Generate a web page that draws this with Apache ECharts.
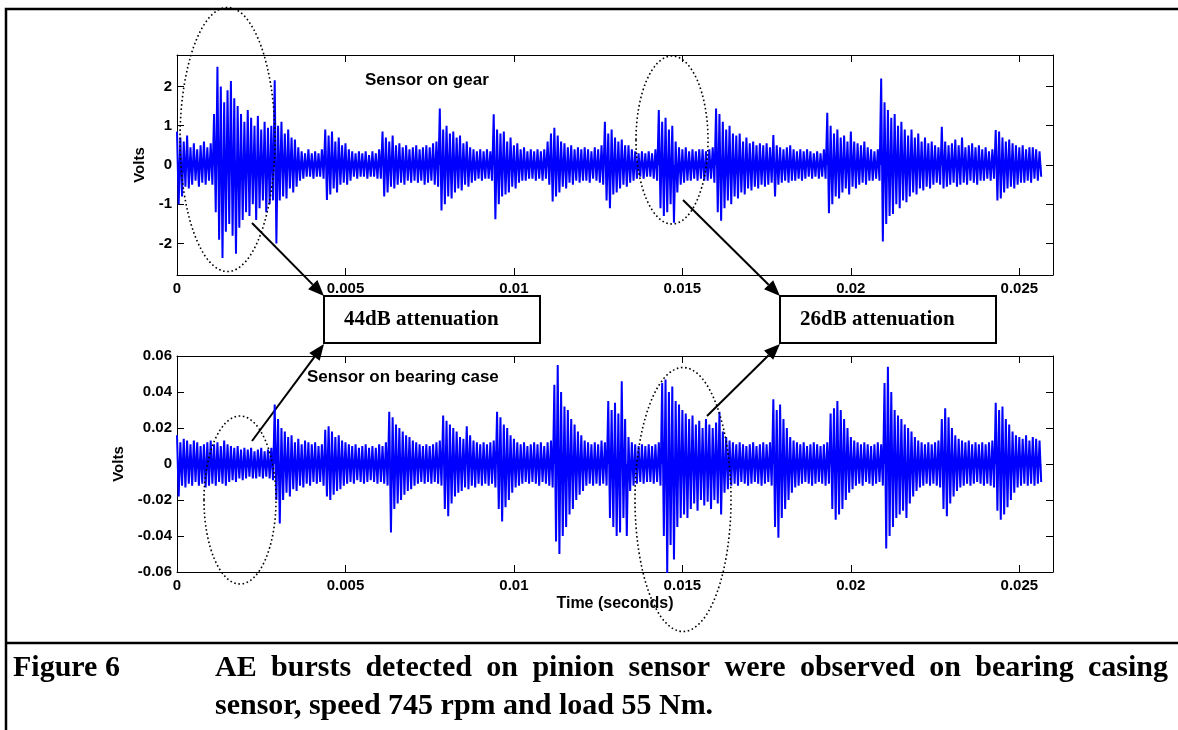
<!DOCTYPE html>
<html>
<head>
<meta charset="utf-8">
<script src="https://cdn.jsdelivr.net/npm/echarts@6/dist/echarts.min.js"></script>
<style>
  html, body { margin: 0; padding: 0; background: #fff; }
  #chart { width: 1178px; height: 730px; }
</style>
</head>
<body>
<div id="chart"></div>
<script>
// spacing (s) between the envelope readings below
const timeStep = 0.0001;
const timeTicks = [0, 0.005, 0.01, 0.015, 0.02, 0.025];
const gearTicks = [-2, -1, 0, 1, 2];
const caseTicks = [-0.06, -0.04, -0.02, 0, 0.02, 0.04, 0.06];

// sensor on gear: upper / lower peak in each 0.1 ms slot (volts)
const gearHi = [
  0.85, 0.7, 0.6, 0.75, 0.45, 0.55, 0.4, 0.5, 0.6, 0.45,
  0.55, 1.3, 2.5, 2.0, 1.6, 1.9, 2.14, 1.7, 1.5, 1.3,
  1.1, 1.4, 1.2, 1.0, 1.25, 0.9, 1.1, 0.95, 1.0, 2.16,
  1.0, 1.1, 0.8, 0.9, 0.7, 0.65, 0.45, 0.35, 0.3, 0.4,
  0.3, 0.35, 0.3, 0.4, 0.9, 0.75, 0.85, 0.6, 0.7, 0.5,
  0.55, 0.4, 0.35, 0.3, 0.35, 0.3, 0.35, 0.25, 0.35, 0.3,
  0.4, 0.85, 0.7, 0.6, 0.75, 0.5, 0.55, 0.45, 0.5, 0.4,
  0.45, 0.5, 0.4, 0.45, 0.5, 0.45, 0.55, 0.6, 1.44, 0.9,
  1.0, 0.8, 0.85, 0.7, 0.75, 0.55, 0.6, 0.45, 0.4, 0.35,
  0.4, 0.35, 0.4, 0.35, 1.29, 0.9, 0.8, 0.85, 0.6, 0.7,
  0.5, 0.55, 0.4, 0.45, 0.35, 0.4, 0.35, 0.4, 0.35, 0.4,
  0.6, 0.8, 0.95, 0.75, 0.6, 0.55, 0.45, 0.5, 0.4, 0.45,
  0.4, 0.45, 0.4, 0.35, 0.45, 0.4, 0.5, 1.1, 0.8, 0.9,
  0.7, 0.6, 0.65, 0.5, 0.5, 0.4, 0.35, 0.3, 0.35, 0.3,
  0.35, 0.3, 0.4, 1.4, 1.1, 1.2, 0.9, 1.0, 0.6, 0.45,
  0.4, 0.45, 0.35, 0.4, 0.35, 0.4, 0.4, 0.35, 0.4, 0.45,
  1.44, 1.3, 1.1, 0.9, 1.0, 0.8, 0.75, 0.8, 0.6, 0.7,
  0.55, 0.6, 0.5, 0.55, 0.5, 0.55, 0.45, 0.76, 0.5, 0.45,
  0.4, 0.45, 0.5, 0.4, 0.35, 0.4, 0.35, 0.4, 0.35, 0.3,
  0.35, 0.3, 0.4, 1.33, 1.0, 0.8, 0.9, 0.7, 0.75, 0.6,
  0.85, 0.6, 0.55, 0.5, 0.6, 0.45, 0.4, 0.35, 0.4, 2.2,
  1.6, 1.4, 1.2, 1.3, 1.0, 1.1, 0.9, 0.75, 0.9, 0.7,
  0.8, 0.6, 0.7, 0.55, 0.6, 0.5, 0.45, 0.97, 0.6, 0.5,
  0.55, 0.65, 0.5, 0.7, 0.45, 0.5, 0.55, 0.45, 0.5, 0.4,
  0.45, 0.35, 0.4, 0.89, 0.85, 0.7, 0.6, 0.65, 0.55, 0.5,
  0.45, 0.5, 0.4, 0.45, 0.45, 0.4, 0.35
];
const gearLo = [
  -1.0, -0.8, -0.55, -0.6, -0.5, -0.4, -0.55, -0.45, -0.5, -0.4,
  -0.5, -1.2, -1.9, -2.37, -1.7, -1.5, -1.8, -2.26, -1.6, -1.4,
  -1.2, -1.3, -1.0, -1.4, -1.1, -0.9, -1.2, -1.0, -0.9, -2.0,
  -0.9, -0.8, -0.85, -0.6, -0.7, -0.55, -0.4, -0.35, -0.3, -0.3,
  -0.35, -0.3, -0.3, -0.35, -0.89, -0.75, -0.6, -0.7, -0.5, -0.45,
  -0.5, -0.4, -0.3, -0.35, -0.3, -0.3, -0.35, -0.3, -0.3, -0.35,
  -0.35, -0.8, -0.7, -0.55, -0.6, -0.5, -0.45, -0.5, -0.4, -0.45,
  -0.4, -0.45, -0.4, -0.5, -0.45, -0.4, -0.5, -0.55, -1.16, -1.0,
  -0.8, -0.85, -0.7, -0.6, -0.65, -0.5, -0.55, -0.45, -0.4, -0.35,
  -0.4, -0.35, -0.35, -0.4, -1.38, -1.0, -0.8, -0.75, -0.7, -0.55,
  -0.6, -0.45, -0.4, -0.4, -0.35, -0.35, -0.4, -0.35, -0.4, -0.35,
  -0.5, -0.93, -0.8, -0.7, -0.55, -0.6, -0.45, -0.5, -0.4, -0.45,
  -0.4, -0.4, -0.45, -0.35, -0.4, -0.45, -0.5, -0.9, -1.1, -0.75,
  -0.7, -0.6, -0.5, -0.55, -0.45, -0.4, -0.35, -0.3, -0.35, -0.3,
  -0.3, -0.35, -0.4, -1.1, -1.3, -1.2, -1.0, -1.47, -0.7, -0.5,
  -0.45, -0.4, -0.4, -0.35, -0.4, -0.35, -0.4, -0.4, -0.35, -0.45,
  -1.2, -1.42, -1.1, -0.9, -1.0, -0.8, -0.85, -0.7, -0.75, -0.6,
  -0.65, -0.55, -0.6, -0.5, -0.55, -0.5, -0.45, -0.8, -0.5, -0.45,
  -0.4, -0.45, -0.4, -0.4, -0.35, -0.4, -0.35, -0.3, -0.35, -0.3,
  -0.35, -0.3, -0.35, -1.23, -1.0, -0.8, -0.85, -0.7, -0.6, -0.75,
  -0.55, -0.6, -0.5, -0.45, -0.5, -0.4, -0.4, -0.35, -0.4, -1.95,
  -1.5, -1.3, -1.25, -1.0, -1.1, -0.9, -0.95, -0.8, -0.7, -0.75,
  -0.6, -0.65, -0.55, -0.6, -0.5, -0.45, -0.5, -0.6, -0.55, -0.5,
  -0.45, -0.55, -0.5, -0.45, -0.5, -0.4, -0.45, -0.5, -0.4, -0.4,
  -0.35, -0.4, -0.35, -0.9, -0.85, -0.7, -0.6, -0.55, -0.6, -0.5,
  -0.45, -0.45, -0.4, -0.45, -0.35, -0.4, -0.3
];

// sensor on bearing case: upper / lower peak in each 0.1 ms slot (volts)
const caseHi = [
  0.016, 0.012, 0.014, 0.013, 0.011, 0.013, 0.012, 0.01, 0.011, 0.012,
  0.013, 0.011, 0.012, 0.01, 0.013, 0.011, 0.01, 0.009, 0.01, 0.008,
  0.009, 0.008, 0.009, 0.007, 0.008, 0.009, 0.007, 0.008, 0.009, 0.033,
  0.025, 0.02, 0.018, 0.015, 0.016, 0.012, 0.014, 0.011, 0.013, 0.012,
  0.011, 0.012, 0.01, 0.011, 0.019, 0.021, 0.018, 0.015, 0.016, 0.013,
  0.012, 0.011, 0.01, 0.011, 0.009, 0.01, 0.011, 0.009, 0.01, 0.009,
  0.011, 0.01, 0.012, 0.029, 0.026, 0.022, 0.02, 0.018, 0.016, 0.015,
  0.013, 0.012, 0.011, 0.01, 0.011, 0.01, 0.011, 0.012, 0.013, 0.027,
  0.024, 0.022, 0.02, 0.018, 0.015, 0.014, 0.021, 0.016, 0.013, 0.012,
  0.011, 0.012, 0.011, 0.012, 0.013, 0.029, 0.026, 0.022, 0.02, 0.016,
  0.014, 0.012, 0.011, 0.012, 0.01, 0.011, 0.012, 0.011, 0.012, 0.01,
  0.012, 0.013, 0.044, 0.055, 0.04, 0.032, 0.03, 0.025, 0.022, 0.018,
  0.016, 0.013, 0.012, 0.011, 0.012, 0.011, 0.013, 0.012, 0.035, 0.03,
  0.034, 0.028, 0.046, 0.025, 0.015, 0.012, 0.011, 0.01, 0.011, 0.01,
  0.011, 0.01, 0.011, 0.012, 0.045, 0.047, 0.04, 0.043, 0.035, 0.033,
  0.03, 0.028, 0.025, 0.027, 0.022, 0.024, 0.02, 0.025, 0.022, 0.02,
  0.023, 0.029, 0.018, 0.015, 0.013, 0.012, 0.011, 0.012, 0.011, 0.01,
  0.011, 0.012, 0.01, 0.011, 0.012, 0.011, 0.012, 0.036, 0.03, 0.033,
  0.025, 0.02, 0.015, 0.013, 0.012, 0.011, 0.012, 0.01, 0.011, 0.012,
  0.011, 0.01, 0.011, 0.012, 0.028, 0.031, 0.035, 0.03, 0.025, 0.02,
  0.015, 0.013, 0.012, 0.011, 0.012, 0.011, 0.01, 0.011, 0.012, 0.011,
  0.045, 0.054, 0.04, 0.03, 0.027, 0.025, 0.022, 0.02, 0.018, 0.015,
  0.013, 0.012, 0.011, 0.012, 0.011, 0.012, 0.013, 0.025, 0.031, 0.026,
  0.02, 0.016, 0.014, 0.013, 0.012, 0.013, 0.011, 0.012, 0.011, 0.012,
  0.011, 0.012, 0.013, 0.034, 0.03, 0.032, 0.025, 0.022, 0.018, 0.016,
  0.015, 0.014, 0.016, 0.013, 0.015, 0.014, 0.013
];
const caseLo = [
  -0.018, -0.012, -0.013, -0.011, -0.012, -0.01, -0.012, -0.011, -0.013, -0.012,
  -0.011, -0.012, -0.01, -0.011, -0.012, -0.01, -0.009, -0.01, -0.008, -0.009,
  -0.008, -0.007, -0.008, -0.008, -0.007, -0.008, -0.007, -0.008, -0.009, -0.02,
  -0.033, -0.02, -0.016, -0.018, -0.014, -0.015, -0.012, -0.013, -0.011, -0.012,
  -0.01, -0.011, -0.01, -0.012, -0.018, -0.02, -0.017, -0.015, -0.014, -0.012,
  -0.011, -0.01, -0.011, -0.009, -0.01, -0.011, -0.01, -0.009, -0.01, -0.011,
  -0.01, -0.011, -0.012, -0.038, -0.025, -0.022, -0.02, -0.017, -0.015, -0.014,
  -0.012, -0.011, -0.01, -0.011, -0.01, -0.011, -0.01, -0.011, -0.012, -0.025,
  -0.029, -0.022, -0.018, -0.016, -0.015, -0.013, -0.014, -0.012, -0.013, -0.011,
  -0.012, -0.011, -0.012, -0.011, -0.013, -0.025, -0.032, -0.024, -0.02, -0.016,
  -0.013, -0.012, -0.011, -0.01, -0.011, -0.01, -0.011, -0.012, -0.01, -0.011,
  -0.012, -0.013, -0.043, -0.05, -0.04, -0.035, -0.028, -0.025, -0.02, -0.017,
  -0.015, -0.012, -0.011, -0.012, -0.011, -0.012, -0.011, -0.012, -0.03, -0.035,
  -0.04, -0.038, -0.03, -0.04, -0.015, -0.012, -0.011, -0.01, -0.011, -0.01,
  -0.01, -0.011, -0.01, -0.012, -0.04, -0.061, -0.045, -0.053, -0.035, -0.03,
  -0.028, -0.03, -0.025, -0.022, -0.026, -0.02, -0.023, -0.021, -0.025, -0.02,
  -0.022, -0.028, -0.016, -0.014, -0.012, -0.011, -0.012, -0.01, -0.011, -0.012,
  -0.011, -0.01, -0.011, -0.012, -0.011, -0.01, -0.012, -0.035, -0.041, -0.03,
  -0.025, -0.02, -0.016, -0.013, -0.012, -0.011, -0.01, -0.011, -0.012, -0.011,
  -0.01, -0.011, -0.012, -0.011, -0.025, -0.031, -0.028, -0.025, -0.02, -0.016,
  -0.014, -0.012, -0.011, -0.012, -0.01, -0.011, -0.012, -0.011, -0.01, -0.012,
  -0.047, -0.04, -0.035, -0.03, -0.028, -0.026, -0.03, -0.022, -0.018, -0.015,
  -0.013, -0.012, -0.011, -0.012, -0.011, -0.012, -0.013, -0.025, -0.029, -0.022,
  -0.018, -0.015, -0.013, -0.012, -0.011, -0.012, -0.011, -0.01, -0.011, -0.012,
  -0.011, -0.012, -0.013, -0.026, -0.031, -0.028, -0.024, -0.02, -0.016, -0.013,
  -0.012, -0.011, -0.012, -0.011, -0.012, -0.011, -0.01
];

// upper peak at start of slot, lower peak half a slot later
function zigzag(hi, lo) {
  const pts = [];
  for (let i = 0; i < hi.length; i++) {
    pts.push([i * timeStep, hi[i]]);
    pts.push([i * timeStep + timeStep / 2, lo[i]]);
  }
  return pts;
}

const chart = echarts.init(document.getElementById('chart'));

const sans = '"Liberation Sans", Arial, sans-serif';
const serif = '"Liberation Serif", "Times New Roman", serif';
const fmt = v => String(Number(v.toPrecision(6)));

function xAx(grid, top) {
  return {
    type: 'value', gridIndex: grid, min: 0, max: 0.026,
    position: top ? 'top' : 'bottom',
    splitLine: { show: false },
    axisLine: { onZero: false, lineStyle: { color: '#000', width: 1 } },
    axisTick: { inside: true, length: 7, customValues: timeTicks, lineStyle: { color: '#000' } },
    axisLabel: {
      show: !top, customValues: timeTicks, formatter: fmt, margin: 6,
      color: '#000', fontWeight: 'bold', fontSize: 15, fontFamily: sans
    },
    name: (!top && grid === 1) ? 'Time (seconds)' : '',
    nameLocation: 'middle', nameGap: 24,
    nameTextStyle: { color: '#000', fontWeight: 'bold', fontSize: 16, fontFamily: sans }
  };
}

function yAx(grid, right, min, max, ticks, gap) {
  return {
    type: 'value', gridIndex: grid, min: min, max: max,
    position: right ? 'right' : 'left',
    splitLine: { show: false },
    axisLine: { onZero: false, lineStyle: { color: '#000', width: 1 } },
    axisTick: { inside: true, length: 7, customValues: ticks, lineStyle: { color: '#000' } },
    axisLabel: {
      show: !right, customValues: ticks, formatter: fmt, margin: 5,
      color: '#000', fontWeight: 'bold', fontSize: 15, fontFamily: sans
    },
    name: right ? '' : 'Volts',
    nameLocation: 'middle', nameGap: gap,
    nameTextStyle: { color: '#000', fontWeight: 'bold', fontSize: 15, fontFamily: sans }
  };
}

function arrow(x1, y1, x2, y2) {
  const a = Math.atan2(y2 - y1, x2 - x1);
  const len = 16, half = 6.5;
  const bx = x2 - len * Math.cos(a), by = y2 - len * Math.sin(a);
  return [
    { type: 'line', shape: { x1: x1, y1: y1, x2: bx, y2: by },
      style: { stroke: '#000', lineWidth: 2 } },
    { type: 'polygon', shape: { points: [
        [x2, y2],
        [bx + half * Math.sin(a), by - half * Math.cos(a)],
        [bx - half * Math.sin(a), by + half * Math.cos(a)]
      ] }, style: { fill: '#000' } }
  ];
}

function ring(cx, cy, rx, ry) {
  return { type: 'ellipse', shape: { cx: cx, cy: cy, rx: rx, ry: ry },
    style: { fill: null, stroke: '#000', lineWidth: 1.6, lineDash: [1.6, 2.6] }, z: 100 };
}

function box(x, y, label) {
  return [
    { type: 'rect', shape: { x: x, y: y, width: 216, height: 47 },
      style: { fill: '#fff', stroke: '#000', lineWidth: 2 } },
    { type: 'text', style: { x: x + 20, y: y + 24, text: label, fill: '#000',
      font: 'bold 21px ' + serif, textVerticalAlign: 'middle' } }
  ];
}

// caption first line is justified between two margins
const capFont = 'bold 30px ' + serif;
function justified(text, left, right, y) {
  const ctx = document.createElement('canvas').getContext('2d');
  ctx.font = capFont;
  const words = text.split(' ');
  const widths = words.map(w => ctx.measureText(w).width);
  const gap = (right - left - widths.reduce((s, w) => s + w, 0)) / (words.length - 1);
  let x = left;
  return words.map((w, i) => {
    const el = { type: 'text', style: { x: x, y: y, text: w, fill: '#000',
      font: capFont, textVerticalAlign: 'middle' } };
    x += widths[i] + gap;
    return el;
  });
}

const graphics = [
  // frame
  { type: 'polyline', shape: { points: [[6, 730], [6, 9], [1180, 9]] },
    style: { stroke: '#000', lineWidth: 2.5, fill: null } },
  { type: 'line', shape: { x1: 6, y1: 643, x2: 1180, y2: 643 },
    style: { stroke: '#000', lineWidth: 2.5 } },
  // panel labels
  { type: 'text', style: { x: 365, y: 80, text: 'Sensor on gear', fill: '#000',
    font: 'bold 17px ' + sans, textVerticalAlign: 'middle' } },
  { type: 'text', style: { x: 307, y: 377, text: 'Sensor on bearing case', fill: '#000',
    font: 'bold 17px ' + sans, textVerticalAlign: 'middle' } },
  ...box(324, 296, '44dB attenuation'),
  ...box(780, 296, '26dB attenuation'),
  ...arrow(252, 223, 324, 296),
  ...arrow(683, 200, 780, 296),
  ...arrow(252, 441, 324, 344),
  ...arrow(707, 416, 780, 344),
  ring(227.5, 139.5, 47.5, 132),
  ring(672, 140, 36, 84),
  ring(240, 500, 36, 84),
  ring(683, 499.5, 48, 132),
  // caption
  { type: 'text', style: { x: 13, y: 668, text: 'Figure 6', fill: '#000',
    font: capFont, textVerticalAlign: 'middle' } },
  ...justified('AE bursts detected on pinion sensor were observed on bearing casing', 215, 1168, 668),
  { type: 'text', style: { x: 215, y: 706,
    text: 'sensor, speed 745 rpm and load 55 Nm.',
    fill: '#000', font: capFont, textVerticalAlign: 'middle' } }
];

const waveColor = '#0000ff';

const option = {
  animation: false,
  backgroundColor: '#fff',
  grid: [
    { left: 177, top: 55, width: 876, height: 220 },
    { left: 177, top: 356, width: 876, height: 216 }
  ],
  xAxis: [xAx(0, false), xAx(0, true), xAx(1, false), xAx(1, true)],
  yAxis: [
    yAx(0, false, -2.8, 2.8, gearTicks, 30),
    yAx(0, true, -2.8, 2.8, gearTicks, 30),
    yAx(1, false, -0.06, 0.06, caseTicks, 51),
    yAx(1, true, -0.06, 0.06, caseTicks, 51)
  ],
  series: [
    {
      name: 'Sensor on gear', type: 'line', xAxisIndex: 0, yAxisIndex: 0,
      data: zigzag(gearHi, gearLo), showSymbol: false, silent: true,
      lineStyle: { color: waveColor, width: 2 },
      areaStyle: { color: waveColor, opacity: 1 }
    },
    {
      name: 'Sensor on bearing case', type: 'line', xAxisIndex: 2, yAxisIndex: 2,
      data: zigzag(caseHi, caseLo), showSymbol: false, silent: true,
      lineStyle: { color: waveColor, width: 2 },
      areaStyle: { color: waveColor, opacity: 1 }
    }
  ],
  graphic: graphics
};

chart.setOption(option);
</script>
</body>
</html>
